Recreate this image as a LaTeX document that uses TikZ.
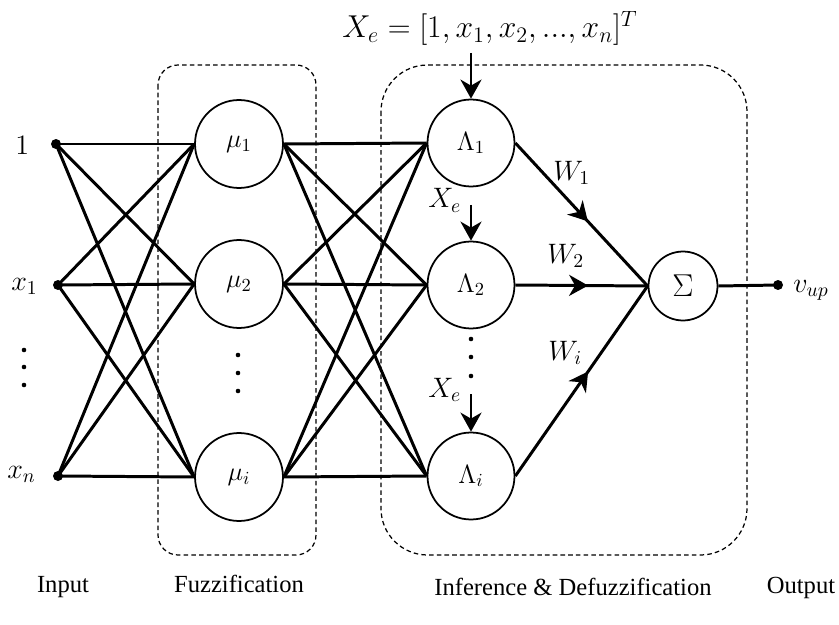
\RequirePackage{fix-cm}
\documentclass[tikz,border=0pt]{standalone}
\usepackage{fontspec}
\newfontfamily\labfont{Liberation Serif}
\usetikzlibrary{arrows.meta,decorations.markings}
\newcommand\mysz[1]{\fontsize{#1}{#1}\selectfont}
\begin{document}
\begin{tikzpicture}[x=0.02cm,y=-0.02cm,
  conn/.style={line width=1.7pt},
  neuron/.style={circle,draw,line width=1pt,inner sep=0pt,minimum size=1.76cm,font=\mysz{15}},
  infnode/.style={neuron,minimum size=1.74cm},
  grp/.style={draw,line width=0.7pt,dash pattern=on 2.6pt off 1.8pt},
  inpt/.style={circle,fill,inner sep=0pt,minimum size=0.2cm},
  lab/.style={font=\labfont\mysz{14},anchor=base,inner sep=0pt},
  mlab/.style={font=\mysz{16},anchor=base west,inner sep=0pt},
  tip/.style={-{Stealth[length=0.38cm,width=0.42cm,inset=0.12cm]}},
  midarrow/.style={postaction={decorate},decoration={markings,mark=at position #1 with {\arrow{Stealth[length=0.38cm,width=0.42cm,inset=0.12cm]}}}},
  midarrow/.default=0.53,
  dotm/.style={circle,fill,inner sep=0pt,minimum size=2.6pt}
]
\useasboundingbox (0,0) rectangle (839,625);

% group boxes
\draw[grp,rounded corners=0.4cm] (158,65) rectangle (316,555);
\draw[grp,rounded corners=0.93cm] (381,65) rectangle (747,555);

% input points
\node[inpt] (i0) at (56,144) {};
\node[inpt] (i1) at (58,285) {};
\node[inpt] (in) at (58,476) {};
\node[mlab] (l0) at (15,154) {$1$};
\node[mlab] (l1) at (11,290) {$x_1$};
\node[mlab] (ln) at (7,478) {$x_n$};
\node[dotm] (d1) at (24,350) {};
\node[dotm] (d2) at (24,367) {};
\node[dotm] (d3) at (24,385) {};

% fuzzification
\node[neuron] (m1) at (239,144) {$\mu_1$};
\node[neuron] (m2) at (239,284) {$\mu_2$};
\node[neuron] (mi) at (239,477) {$\mu_i$};
\node[dotm] (e1) at (238,355) {};
\node[dotm] (e2) at (238,373) {};
\node[dotm] (e3) at (238,391) {};

% inference
\node[infnode] (L1) at (471,143) {$\Lambda_1$};
\node[infnode] (L2) at (471,285) {$\Lambda_2$};
\node[infnode] (Li) at (471,476) {$\Lambda_i$};
\node[dotm] (f1) at (471,339) {};
\node[dotm] (f2) at (471,357) {};
\node[dotm] (f3) at (471,376) {};

% sum and output
\node[neuron,minimum size=1.38cm,font=\mysz{18}] (S) at (683,286) {$\Sigma$};
\node[inpt] (out) at (778,285) {};
\node[mlab] (vup) at (793,292) {$v_{up}$};

% connections input -> fuzzification
\foreach \a in {i0,i1,in}
  \foreach \b in {m1,m2,mi}
    \draw[conn] (\a.center) -- (\b.west);
% fuzzification -> inference
\foreach \a in {m1,m2,mi}
  \foreach \b in {L1,L2,Li}
    \draw[conn] (\a.east) -- (\b.west);

% weighted arrows
\draw[conn,midarrow=0.55] (L1.east) -- (S.west);
\draw[conn,midarrow=0.55] (L2.east) -- (S.west);
\draw[conn,midarrow=0.55] (Li.east) -- (S.west);
\draw[conn] (S.east) -- (out.center);
\node[mlab] (w1) at (553,180) {$W_1$};
\node[mlab] (w2) at (547,263) {$W_2$};
\node[mlab] (wi) at (548,360) {$W_i$};

% X_e inputs
\node[font=\mysz{18},anchor=base,inner sep=0pt] (xe) at (490,38) {$X_e = [1, x_1, x_2, ..., x_n]^T$};
\coordinate (t1) at (471,53);
\draw[conn,tip] (t1) -- (L1.north);
\node[mlab] (xe2) at (428,208) {$X_e$};
\coordinate (t2) at (471,205);
\draw[conn,tip] (t2) -- (L2.north);
\node[mlab] (xe3) at (428,397) {$X_e$};
\coordinate (t3) at (471,394);
\draw[conn,tip] (t3) -- (Li.north);

% bottom labels
\node[lab] (bin) at (63,592) {Input};
\node[lab] (bfz) at (239,592) {Fuzzification};
\node[lab] (bid) at (573,595) {Inference \& Defuzzification};
\node[lab] (bout) at (801,593) {Output};
\end{tikzpicture}
\end{document}
